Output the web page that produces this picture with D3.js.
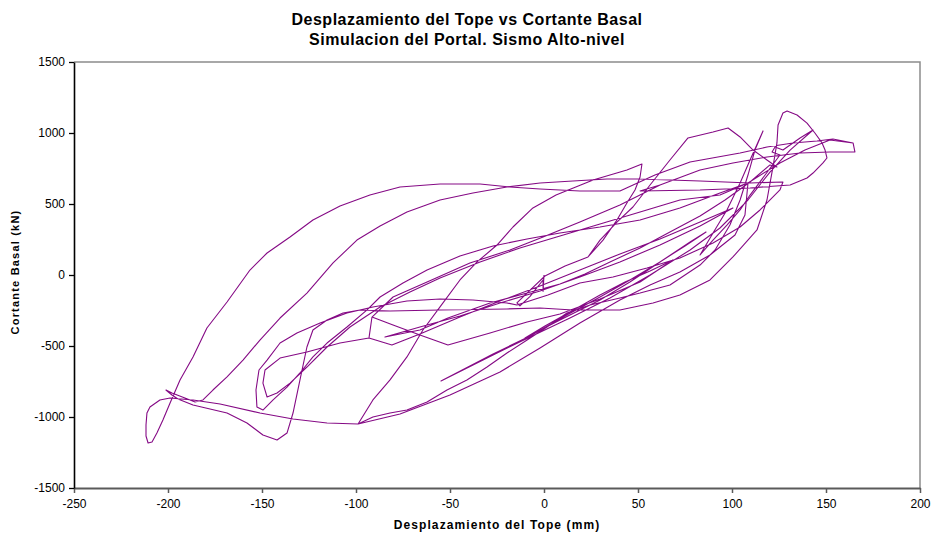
<!DOCTYPE html>
<html>
<head>
<meta charset="utf-8">
<script src="https://cdn.jsdelivr.net/npm/d3@7"></script>
<style>
  html, body { margin: 0; padding: 0; background: #fff; }
  svg { display: block; font-family: "Liberation Sans", Arial, sans-serif; }
</style>
</head>
<body>
<svg id="chart" width="933" height="533"></svg>
<script>
// Hysteresis record: top displacement (mm) vs base shear (kN)
const desplazamiento = [
  0, -0.5, -0.5, -7.4, -12.8, -14.4, -8.5, 0.5, 11.2, 23.4,
  29.8, 38.8, 47.3, 56.4, 67.0, 76.6, 89.9, 97.9, 104.3, 111.2, 118.6, 123.9, 120.2,
  109.6, 96.3, 83.0, 67.0, 51.1, 35.1, 21.8, 8.5, -9.0, -28.7, -51.1, -66.0, -84.6,
  -66.0, -44.7, -23.4, -2.1, 19.1, 40.4, 61.7, 83.0, 100.5,
  83.0, 61.7, 40.4, 19.1, -2.1, -23.4, -44.7, -66.0, -80.9, -93.1, -91.5, -80.3, -66.0, -51.1,
  -28.7, -9.0, 8.5, 29.8, 51.1, 68.6,
  56.4, 43.1, 29.8, 13.8, 0.5, -10.1,
  8.5, 29.8, 45.7, 63.3, 75.0, 86.2,
  77.7, 61.7, 45.7, 29.8, 11.2, -7.4, -27.1, -54.8,
  -27.1, -7.4, 13.8, 35.1, 56.4, 77.7, 93.6, 108.5, 120.2, 130.9, 143.1,
  136.2, 127.1, 122.9, 121.3, 125.5, 117.6, 109.6, 104.3, 97.3, 89.9, 83.0,
  89.9, 97.3, 104.3, 109.6, 116.5,
  112.2, 108.5, 104.3, 98.9, 91.0, 83.0, 67.0, 51.1, 40.4, 24.5, 12.2, 1.6, -9.0, -19.7,
  -30.3, -41.0, -51.6, -62.2, -72.9, -81.9, -91.0, -98.9,
  -115.4, -133.5, -151.1, -172.3, -186.7, -198.9, -204.3, -209.6, -211.2, -211.7, -211.7, -210.6,
  -208.5, -205.9, -202.7, -198.9, -193.6, -186.7, -179.3, -168.6, -156.4, -147.3, -135.1, -122.9,
  -108.5, -92.6, -76.6, -55.3, -34.0, -18.1, -2.1, 19.1, 40.4, 59.0, 77.7, 104.3, 118.6, 132.4,
  145.2, 153.7, 164.4, 165.4, 152.1, 136.2, 118.6, 100.5, 83.0, 61.7, 51.1, 83.0, 109.6, 130.9, 139.9,
  143.1, 148.4, 150.5, 149.5, 147.9, 144.1, 139.9, 134.6, 129.3, 127.1, 124.5, 123.9, 121.8,
  118.6, 113.3, 100.5, 88.3, 72.3, 58.0, 40.4, 15.4, -2.1, -19.7, -55.3, -81.9, -97.9, -106.9,
  -115.4, -122.9, -126.1, -129.8, -133.5, -136.7, -142.0, -149.5, -158.0, -168.6, -186.7, -194.7,
  -197.9, -201.1,
  -197.9, -191.0, -185.6, -181.4, -176.1, -168.6, -160.1, -151.1, -140.4, -126.1, -112.2, -99.5,
  -87.2, -72.9, -55.3, -37.8, -19.7, -2.1, 15.4, 33.5, 51.1, 83.0, 109.6, 127.1,
  125.5, 114.9, 104.3, 89.9, 72.3, 54.8, 36.7, 19.1, 2.1, -14.4, -19.7, -37.8, -55.3, -72.9,
  -91.0, -104.8, -119.1, -131.4, -140.4, -147.3, -151.6, -153.2, -152.7, -149.5,
  -144.1, -136.7, -129.8, -122.9, -115.4, -104.8, -94.1, -87.2, -75.0, -62.2, -44.7, -27.1,
  -9.0, 8.5, 29.8, 51.1, 72.3, 93.6, 108.5,
  125.5, 138.8, 152.1, 164.4, 165.4, 152.1, 136.2, 118.6, 100.5, 83.0, 61.7, 40.4, 19.1, -0.5,
  -18.1, -39.4, -62.2, -80.3, -91.5, -93.1,
  -108.5, -126.1, -140.4, -148.4, -149.5, -147.3,
  -142.0, -135.1, -126.1, -115.4, -103.2, -87.2, -71.3, -55.3, -34.0, -12.8, 8.5, 29.8, 51.1,
  72.3, 93.6, 108.5,
  106.9, 101.6, 88.3, 72.3, 56.4, 40.4, 19.1, -2.1, -23.4, -50.0, -76.6, -98.9,
  -91.0, -81.9, -72.9, -64.4, -55.3, -44.7, -35.6, -25.0, -16.5, -5.9, 6.4, 26.1, 35.1, 44.1,
  52.1, 51.1, 48.4, 44.1, 38.8, 31.4, 23.4
];
const cortante = [
  0, -115, -35, -150, -218, -197, -120, -7, 63, 127,
  246, 373, 479, 634, 810, 965, 1007, 1035, 972, 880, 810, 761, 775,
  655, 528, 415, 303, 190, 92, 7, -63, -127, -197, -303, -387, -437,
  -366, -289, -197, -113, -14, 92, 211, 345, 472,
  373, 254, 148, 35, -77, -183, -296, -415, -493, -444, -296, -352, -423, -493,
  -408, -331, -275, -169, -49, 106,
  28, -49, -141, -261, -359, -444,
  -317, -176, -49, 106, 204, 303,
  232, 92, -35, -155, -289, -430, -556, -746,
  -563, -437, -303, -162, 0, 176, 331, 528, 725, 880, 1021,
  965, 880, 901, 866, 845, 704, 563, 458, 352, 246, 141,
  296, 458, 648, 810, 1014,
  880, 704, 528, 352, 176, 70, -70, -127, -162, -211, -268, -366, -458, -549,
  -648, -739, -810, -894, -951, -972, -1000, -1049,
  -1042, -1014, -972, -908, -880, -866, -880, -930, -972, -1056, -1134, -1183,
  -1176, -1113, -1021, -901, -739, -577, -373, -190, 35, 155, 268, 387,
  486, 563, 620, 641, 641, 620, 606, 592, 592, 704, 796, 859, 901, 930,
  944, 958, 930, 866, 866, 859, 831, 789, 739, 634, 592, 599, 613, 634, 683,
  718, 789, 824, 880, 930, 1000, 1070, 1127, 1155, 1141, 1056, 930, 761,
  528, 317, 127, -35, -141, -197, -246, -246, -232, -239, -246, -254, -246, -268,
  -317, -387, -507, -739, -972, -1113, -1162, -1127, -1042, -972, -915, -873,
  -845, -810,
  -831, -866, -894, -880, -810, -718, -599, -458, -303, -127, 85, 246,
  345, 444, 528, 577, 620, 648, 662, 676, 676, 662, 648, 655,
  599, 458, 338, 225, 120, 49, -14, -56, -141, -211, -197, -176, -169, -183,
  -225, -268, -338, -408, -479, -599, -669, -810, -930, -951,
  -880, -789, -690, -577, -479, -366, -246, -155, -56, 35, 134, 204,
  254, 296, 338, 387, 472, 577, 648,
  789, 880, 951, 930, 866, 866, 859, 831, 789, 739, 634, 493, 373, 268,
  176, 85, -49, -155, -296, -444,
  -479, -542, -585, -669, -761, -859,
  -831, -761, -648, -507, -366, -225, -120, -21, 92, 190, 275, 359, 444,
  528, 563, 648,
  423, 282, 141, 21, -70, -176, -338, -514, -683, -845, -979, -1049,
  -880, -739, -577, -387, -225, -35, 92, 211, 338, 472, 563, 669, 704, 739,
  782, 690, 599, 507, 387, 246, 127
];

const ticksX = [-250, -200, -150, -100, -50, 0, 50, 100, 150, 200];
const ticksY = [-1500, -1000, -500, 0, 500, 1000, 1500];

const titulo = ["Desplazamiento del Tope vs Cortante Basal", "Simulacion del Portal. Sismo Alto-nivel"];
const tituloX = "Desplazamiento del Tope (mm)";
const tituloY = "Cortante Basal (kN)";

const svg = d3.select("#chart");
const plot = { left: 74, right: 920, top: 62, bottom: 488 };

const x = d3.scaleLinear().domain([-250, 200]).range([plot.left, plot.right]);
const y = d3.scaleLinear().domain([-1500, 1500]).range([plot.bottom, plot.top]);

// frame (top and right sides)
svg.append("path")
  .attr("d", `M${plot.left},${plot.top}H${plot.right}V${plot.bottom}`)
  .attr("fill", "none")
  .attr("stroke", "#8c8c8c")
  .attr("stroke-width", 1.5);

// axes
const gx = svg.append("g")
  .attr("transform", `translate(0,${plot.bottom})`)
  .call(d3.axisBottom(x).tickValues(ticksX).tickSize(5).tickSizeOuter(0).tickFormat(d => d));
gx.select(".domain").attr("stroke", "#5a5a5a").attr("stroke-width", 2.2);
gx.selectAll(".tick line").attr("stroke", "#5a5a5a").attr("stroke-width", 1.5);
gx.selectAll(".tick text").attr("font-size", 12).attr("fill", "#000").attr("dy", "1.0em")
  .attr("font-family", "Liberation Sans, Arial, sans-serif");

const gy = svg.append("g")
  .attr("transform", `translate(${plot.left},0)`)
  .call(d3.axisLeft(y).tickValues(ticksY).tickSize(5).tickSizeOuter(0).tickFormat(d => d));
gy.select(".domain").attr("stroke", "#000").attr("stroke-width", 1.6);
gy.selectAll(".tick line").attr("stroke", "#000").attr("stroke-width", 1.3);
gy.selectAll(".tick text").attr("font-size", 12).attr("fill", "#000").attr("x", -9)
  .attr("font-family", "Liberation Sans, Arial, sans-serif");

// hysteresis curve
const puntos = desplazamiento.map((d, i) => [d, cortante[i]]);
const linea = d3.line().x(p => x(p[0])).y(p => y(p[1]));
svg.append("path")
  .datum(puntos)
  .attr("d", linea)
  .attr("fill", "none")
  .attr("stroke", "#850a85")
  .attr("stroke-width", 1.1)
  .attr("stroke-linejoin", "round");

// titles
svg.append("text")
  .attr("x", 467).attr("y", 25)
  .attr("text-anchor", "middle")
  .attr("font-size", 16).attr("font-weight", "bold")
  .attr("letter-spacing", 0.5)
  .text(titulo[0]);
svg.append("text")
  .attr("x", 467).attr("y", 45)
  .attr("text-anchor", "middle")
  .attr("font-size", 16).attr("font-weight", "bold")
  .attr("letter-spacing", 0.5)
  .text(titulo[1]);

svg.append("text")
  .attr("x", 497).attr("y", 529)
  .attr("text-anchor", "middle")
  .attr("font-size", 12).attr("font-weight", "bold")
  .attr("letter-spacing", 1.1)
  .text(tituloX);

svg.append("text")
  .attr("transform", "translate(19,272) rotate(-90)")
  .attr("text-anchor", "middle")
  .attr("font-size", 11).attr("font-weight", "bold")
  .attr("letter-spacing", 1.2)
  .text(tituloY);
</script>
</body>
</html>
